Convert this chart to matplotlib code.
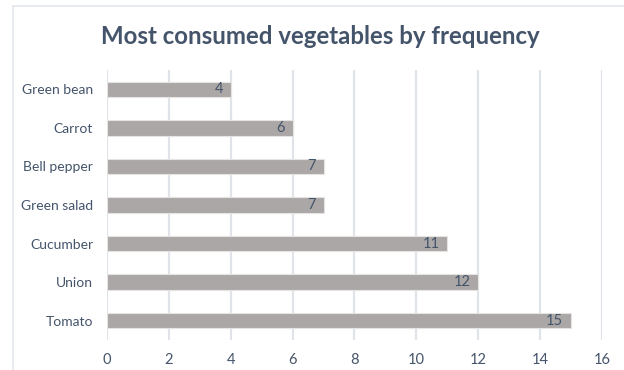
import matplotlib.pyplot as plt
from matplotlib.lines import Line2D

vegetables = ['Tomato', 'Union', 'Cucumber', 'Green salad', 'Bell pepper', 'Carrot', 'Green bean']
counts = [15, 12, 11, 7, 7, 6, 4]
xticks = [0, 2, 4, 6, 8, 10, 12, 14, 16]

text_col = '#44546A'
plt.rcParams['font.family'] = ['Lato', 'DejaVu Sans']

fig = plt.figure(figsize=(6.24, 3.70), dpi=100)
ax = fig.add_axes([107 / 624, 30 / 370, 495 / 624, 270 / 370])

bars = ax.barh(range(len(vegetables)), counts, height=0.4,
               color='#ABA7A6', edgecolor='#E6E4E3', linewidth=0.8, zorder=3)
for i, v in enumerate(counts):
    ax.text(v - 0.25, i, str(v), ha='right', va='center',
            fontsize=10.5, color=text_col, zorder=4)

ax.set_xlim(0, 16)
ax.set_ylim(-0.5, len(vegetables) - 0.5)
ax.set_xticks(xticks)
ax.set_yticks(range(len(vegetables)))
ax.set_yticklabels(vegetables)
ax.tick_params(length=0, labelsize=10, colors=text_col)
ax.tick_params(axis='x', pad=9, labelsize=10.5)
ax.tick_params(axis='y', pad=10)
ax.grid(axis='x', color='#E0E4EA', linewidth=1.6, zorder=0)
for s in ax.spines.values():
    s.set_visible(False)

fig.text(0.514, 1 - 36 / 370, 'Most consumed vegetables by frequency',
         ha='center', va='center', fontsize=17.3, fontweight='bold', color=text_col)

# chart frame (only top and left edges are visible in the crop)
fig.add_artist(Line2D([13 / 624, 1], [1 - 6 / 370, 1 - 6 / 370],
                      transform=fig.transFigure, color='#E4E7EC', linewidth=1.2))
fig.add_artist(Line2D([13 / 624, 13 / 624], [0, 1 - 6 / 370],
                      transform=fig.transFigure, color='#E4E7EC', linewidth=1.2))

fig.savefig('out.png', dpi=100)
